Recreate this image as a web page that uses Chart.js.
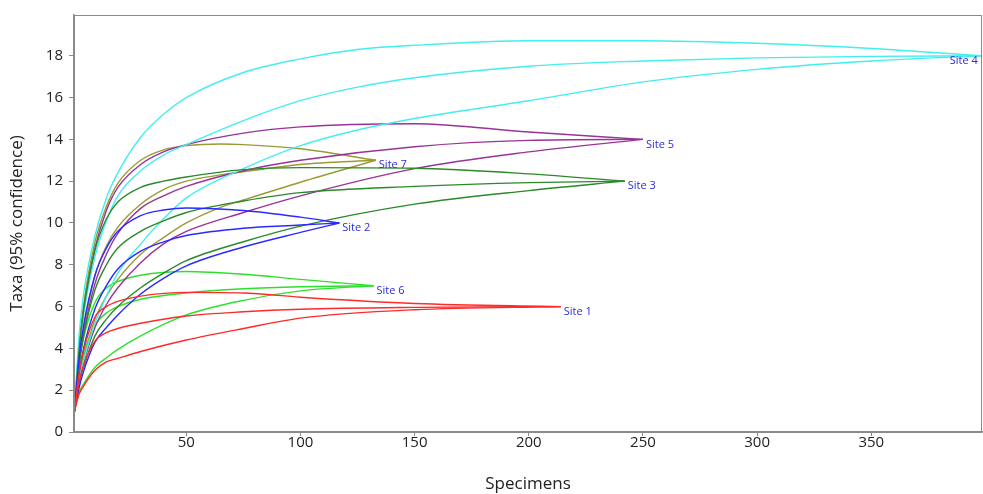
<!DOCTYPE html>
<html>
<head>
    <title>Rarefaction curves</title>
    <script src="https://cdn.jsdelivr.net/npm/chart.js"></script>
    <style>
        body {
            margin: 0;
            background: #fff;
        }
        #wrap {
            width: 983px;
            height: 494px;
        }
    </style>
</head>
<body>
    <div id="wrap"><canvas id="rareChart" width="983" height="494"></canvas></div>

    <script>
        // sites, endpoint = (specimens, taxa)
        const siteNames = ['Site 1', 'Site 2', 'Site 3', 'Site 4', 'Site 5', 'Site 6', 'Site 7'];

        const site1X     = [1, 3, 5, 10, 15, 20, 30, 50, 75, 100, 150, 214];
        const site1Lower = [1, 1.8, 2.2, 2.95, 3.35, 3.52, 3.85, 4.4, 4.95, 5.45, 5.85, 6];
        const site1Mean  = [1, 2.4, 3.2, 4.35, 4.75, 4.95, 5.2, 5.55, 5.75, 5.87, 5.96, 6];
        const site1Upper = [1, 2.8, 3.9, 5.5, 6.0, 6.25, 6.5, 6.68, 6.65, 6.45, 6.15, 6];

        const site2X     = [1, 3, 5, 10, 15, 20, 30, 40, 50, 75, 100, 117];
        const site2Lower = [1, 2.1, 2.9, 4.3, 5.0, 5.6, 6.6, 7.35, 7.95, 8.85, 9.55, 10];
        const site2Mean  = [1, 2.8, 4.0, 5.9, 7.0, 7.8, 8.65, 9.1, 9.4, 9.75, 9.9, 10];
        const site2Upper = [1, 3.5, 5.1, 7.5, 8.8, 9.6, 10.35, 10.62, 10.72, 10.6, 10.28, 10];

        const site3X     = [1, 3, 5, 10, 15, 20, 30, 40, 50, 75, 100, 150, 200, 242];
        const site3Lower = [1, 2.3, 3.1, 4.6, 5.4, 6.0, 6.9, 7.6, 8.2, 9.1, 9.85, 10.9, 11.55, 12];
        const site3Mean  = [1, 3.2, 4.6, 6.8, 8.0, 8.8, 9.6, 10.1, 10.5, 11.05, 11.45, 11.75, 11.93, 12];
        const site3Upper = [1, 3.9, 5.8, 8.7, 10.2, 11.0, 11.7, 12.0, 12.2, 12.55, 12.65, 12.62, 12.35, 12];

        const site4X     = [1, 3, 5, 10, 15, 20, 30, 40, 50, 75, 100, 125, 150, 200, 250, 300, 350, 398];
        const site4Lower = [1, 2.5, 3.4, 5.2, 6.5, 7.6, 9.0, 10.2, 11.2, 12.6, 13.7, 14.45, 15.0, 15.85, 16.75, 17.35, 17.75, 18];
        const site4Mean  = [1, 3.9, 5.6, 8.4, 10.1, 11.3, 12.5, 13.25, 13.75, 14.9, 15.85, 16.5, 16.95, 17.5, 17.75, 17.9, 17.97, 18];
        const site4Upper = [1, 4.6, 6.6, 9.4, 11.2, 12.4, 14.1, 15.2, 16.0, 17.2, 17.85, 18.3, 18.5, 18.72, 18.72, 18.6, 18.35, 18];

        const site5X     = [1, 3, 5, 10, 15, 20, 30, 40, 50, 75, 100, 150, 200, 250];
        const site5Lower = [1, 2.4, 3.3, 5.0, 6.1, 6.9, 8.1, 9.0, 9.6, 10.5, 11.3, 12.6, 13.4, 14];
        const site5Mean  = [1, 3.3, 4.7, 7.1, 8.5, 9.5, 10.7, 11.3, 11.75, 12.5, 13.0, 13.65, 13.95, 14];
        const site5Upper = [1, 3.9, 5.8, 8.8, 10.6, 11.7, 12.8, 13.4, 13.75, 14.3, 14.6, 14.75, 14.35, 14];

        const site6X     = [1, 3, 5, 10, 15, 20, 30, 50, 75, 100, 132];
        const site6Lower = [1, 1.9, 2.3, 3.1, 3.55, 3.95, 4.6, 5.6, 6.3, 6.75, 7];
        const site6Mean  = [1, 2.7, 3.7, 5.1, 5.7, 6.0, 6.35, 6.65, 6.85, 6.95, 7];
        const site6Upper = [1, 3.2, 4.5, 6.2, 6.9, 7.2, 7.5, 7.68, 7.55, 7.3, 7];

        const site7X     = [1, 3, 5, 10, 15, 20, 30, 40, 50, 65, 75, 100, 133];
        const site7Lower = [1, 2.5, 3.5, 5.4, 6.5, 7.3, 8.5, 9.3, 10.0, 10.75, 11.1, 11.95, 13];
        const site7Mean  = [1, 3.4, 4.9, 7.5, 8.9, 9.8, 10.9, 11.6, 12.0, 12.3, 12.45, 12.8, 13];
        const site7Upper = [1, 4.1, 6.1, 9.1, 10.8, 11.9, 13.0, 13.5, 13.7, 13.78, 13.75, 13.55, 13];

        const xTicks = [50, 100, 150, 200, 250, 300, 350];
        const yTicks = [0, 2, 4, 6, 8, 10, 12, 14, 16, 18];

        const siteColors = ['#ff2a2a', '#2a2aff', '#2a8a2a', '#44eeee', '#993399', '#2ee02e', '#9a9a34'];

        const sites = [
            [site1X, site1Lower, site1Mean, site1Upper],
            [site2X, site2Lower, site2Mean, site2Upper],
            [site3X, site3Lower, site3Mean, site3Upper],
            [site4X, site4Lower, site4Mean, site4Upper],
            [site5X, site5Lower, site5Mean, site5Upper],
            [site6X, site6Lower, site6Mean, site6Upper],
            [site7X, site7Lower, site7Mean, site7Upper]
        ];

        const datasets = [];
        sites.forEach((s, i) => {
            for (let k = 1; k <= 3; k++) {
                datasets.push({
                    label: siteNames[i],
                    data: s[0].map((x, j) => ({ x: x, y: s[k][j] })),
                    borderColor: siteColors[i],
                    borderWidth: 1.4,
                    pointRadius: 0,
                    fill: false,
                    cubicInterpolationMode: 'monotone'
                });
            }
        });

        const FONT = "'Open Sans', 'Noto Sans', sans-serif";

        // site name next to each end point, plus the frame round the plot
        const siteLabels = {
            id: 'siteLabels',
            afterDatasetsDraw(chart) {
                const ctx = chart.ctx;
                const xs = chart.scales.x, ys = chart.scales.y;
                ctx.save();
                ctx.font = '11px ' + FONT;
                ctx.fillStyle = '#2b2bd8';
                ctx.textBaseline = 'middle';
                sites.forEach((s, i) => {
                    const n = s[0].length - 1;
                    const px = xs.getPixelForValue(s[0][n]);
                    const py = ys.getPixelForValue(s[2][n]);
                    if (px > chart.chartArea.right - 40) {
                        ctx.textAlign = 'right';
                        ctx.fillText(siteNames[i], px - 3, py + 5);
                    } else {
                        ctx.textAlign = 'left';
                        ctx.fillText(siteNames[i], px + 3, py + 5);
                    }
                });
                const a = chart.chartArea;
                ctx.strokeStyle = '#8a8a8a';
                ctx.lineWidth = 1;
                ctx.strokeRect(a.left + 0.5, a.top + 0.5, a.right - a.left - 1, a.bottom - a.top);
                ctx.restore();
            }
        };

        new Chart(document.getElementById('rareChart'), {
            type: 'line',
            data: { datasets: datasets },
            options: {
                responsive: false,
                animation: false,
                events: [],
                layout: { padding: { top: 12, right: 1, left: 0, bottom: 0 } },
                plugins: {
                    legend: { display: false },
                    tooltip: { enabled: false }
                },
                scales: {
                    x: {
                        type: 'linear',
                        min: 0.8,
                        max: 398.5,
                        afterBuildTicks: (scale) => {
                            scale.ticks = xTicks.map(v => ({ value: v }));
                        },
                        afterFit: (scale) => { scale.height = 62; },
                        grid: { display: true, drawOnChartArea: false, drawTicks: true, tickLength: 4, color: '#8a8a8a' },
                        border: { color: '#8a8a8a', width: 1.5 },
                        ticks: { color: '#222', font: { family: FONT, size: 15 }, padding: -2, maxRotation: 0 },
                        title: { display: true, text: 'Specimens', color: '#222', font: { family: FONT, size: 17 }, padding: { top: 6, bottom: 0 } }
                    },
                    y: {
                        type: 'linear',
                        min: 0,
                        max: 19.95,
                        afterBuildTicks: (scale) => {
                            scale.ticks = yTicks.map(v => ({ value: v }));
                        },
                        afterFit: (scale) => { scale.width = 74; },
                        grid: { display: true, drawOnChartArea: false, drawTicks: true, tickLength: 5, color: '#8a8a8a' },
                        border: { color: '#8a8a8a', width: 1.5 },
                        ticks: { color: '#222', font: { family: FONT, size: 15 }, padding: 6 },
                        title: { display: true, text: 'Taxa (95% confidence)', color: '#222', font: { family: FONT, size: 17 }, padding: { top: 7, bottom: 0 } }
                    }
                }
            },
            plugins: [siteLabels]
        });
    </script>
</body>
</html>
